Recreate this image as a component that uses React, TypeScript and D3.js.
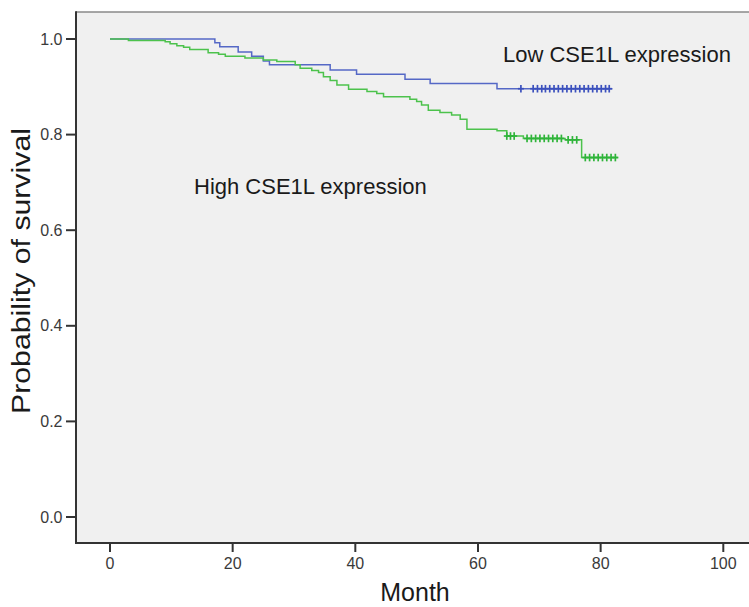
import React from "react";
import * as d3 from "d3";

// Low CSE1L expression (blue): event times (months) and survival after each event
const lowTimes = [0, 17.1, 17.9, 20.9, 23.1, 25.0, 26.0, 35.9, 40.2, 48.1, 52.2, 63.1];
const lowSurv = [1.0, 0.992, 0.984, 0.973, 0.964, 0.954, 0.946, 0.935, 0.926, 0.916, 0.907, 0.896];
const lowCensor = [67.0, 69.0, 69.7, 70.4, 71.0, 71.7, 72.4, 73.1, 73.8, 74.5, 75.2, 75.9, 76.6, 77.3, 78.0, 78.7, 79.4, 80.1, 80.8, 81.4];
const lowEnd = 81.9;

// High CSE1L expression (green)
const highTimes = [0, 3.0, 9.0, 9.8, 10.9, 12.0, 13.0, 16.0, 17.7, 18.8, 22.0, 25.0, 27.2, 30.2, 31.0, 32.9, 34.0, 34.8, 35.9, 37.0, 38.9, 41.9, 43.5, 44.6, 48.9, 50.0, 50.8, 51.9, 53.8, 55.7, 57.1, 58.2, 63.1, 64.7, 67.4, 74.2, 76.9];
const highSurv = [1.0, 0.997, 0.994, 0.990, 0.986, 0.983, 0.978, 0.971, 0.968, 0.964, 0.960, 0.956, 0.953, 0.946, 0.939, 0.934, 0.930, 0.921, 0.913, 0.904, 0.895, 0.890, 0.886, 0.879, 0.874, 0.869, 0.862, 0.851, 0.846, 0.841, 0.832, 0.811, 0.808, 0.797, 0.792, 0.789, 0.752];
const highCensor = [64.7, 65.3, 65.9, 68.0, 68.7, 69.4, 70.1, 70.8, 71.5, 72.2, 72.9, 73.6, 74.7, 75.4, 76.1, 77.5, 78.2, 78.9, 79.6, 80.3, 81.0, 81.7, 82.4];
const highEnd = 82.8;

const xTicks = [0, 20, 40, 60, 80, 100];
const yTicks = [0.0, 0.2, 0.4, 0.6, 0.8, 1.0];

const W = 749;
const H = 607;
const plotLeft = 76;
const plotTop = 12;
const plotBottom = 543;

const x = d3.scaleLinear().domain([0, 100]).range([110, 723.3]);
const y = d3.scaleLinear().domain([0, 1]).range([517, 39]);

function survAt(times: number[], surv: number[], t: number) {
  const i = d3.bisectRight(times, t) - 1;
  return surv[Math.max(0, i)];
}

function stepPath(times: number[], surv: number[], end: number) {
  const pts: [number, number][] = times.map((t, i) => [t, surv[i]]);
  pts.push([end, surv[surv.length - 1]]);
  const line = d3
    .line<[number, number]>()
    .x((d) => x(d[0]))
    .y((d) => y(d[1]))
    .curve(d3.curveStepAfter);
  return line(pts) || "";
}

function Censors({ times, surv, censor, color }: { times: number[]; surv: number[]; censor: number[]; color: string }) {
  return (
    <g stroke={color} strokeWidth={1.7}>
      {censor.map((c, i) => {
        const cx = x(c);
        const cy = y(survAt(times, surv, c));
        return (
          <g key={i}>
            <line x1={cx} x2={cx} y1={cy - 3.8} y2={cy + 3.8} />
            <line x1={cx - 3} x2={cx + 3} y1={cy} y2={cy} />
          </g>
        );
      })}
    </g>
  );
}

export default function App() {
  const blue = "#5568c6";
  const green = "#4cc24c";
  const font = "Arial, 'Liberation Sans', sans-serif";
  return (
    <svg width={W} height={H} style={{ position: "absolute", left: 0, top: 0, background: "#ffffff" }}>
      <rect x={plotLeft} y={plotTop} width={W - plotLeft + 5} height={plotBottom - plotTop} fill="#f0f0f0" />
      {/* top border */}
      <line x1={plotLeft} x2={W} y1={plotTop} y2={plotTop} stroke="#8a8a8a" strokeWidth={1.6} />
      {/* left axis */}
      <line x1={plotLeft} x2={plotLeft} y1={plotTop - 0.8} y2={plotBottom + 1} stroke="#333" strokeWidth={2} />
      {/* bottom axis */}
      <line x1={plotLeft - 1} x2={W} y1={plotBottom} y2={plotBottom} stroke="#333" strokeWidth={2} />

      {yTicks.map((t) => (
        <g key={"y" + t}>
          <line x1={66} x2={plotLeft} y1={y(t)} y2={y(t)} stroke="#333" strokeWidth={2} />
          <text
            x={62.5}
            y={y(t)}
            textAnchor="end"
            dominantBaseline="central"
            fontFamily={font}
            fontSize={16}
            fill="#3a3a3a"
          >
            {t.toFixed(1)}
          </text>
        </g>
      ))}
      {xTicks.map((t) => (
        <g key={"x" + t}>
          <line x1={x(t)} x2={x(t)} y1={plotBottom} y2={plotBottom + 9} stroke="#333" strokeWidth={2} />
          <text
            x={x(t)}
            y={568.5}
            textAnchor="middle"
            fontFamily={font}
            fontSize={16}
            fill="#3a3a3a"
          >
            {t}
          </text>
        </g>
      ))}

      <path d={stepPath(lowTimes, lowSurv, lowEnd)} fill="none" stroke={blue} strokeWidth={1.5} />
      <path d={stepPath(highTimes, highSurv, highEnd)} fill="none" stroke={green} strokeWidth={1.5} />
      <Censors times={lowTimes} surv={lowSurv} censor={lowCensor} color="#3b50bd" />
      <Censors times={highTimes} surv={highSurv} censor={highCensor} color="#2fb43a" />

      <text x={503} y={61.5} fontFamily={font} fontSize={22} fill="#1a1a1a">
        Low CSE1L expression
      </text>
      <text x={194} y={194} fontFamily={font} fontSize={22} fill="#1a1a1a">
        High CSE1L expression
      </text>

      <text x={415} y={601} textAnchor="middle" fontFamily={font} fontSize={25} fill="#1a1a1a">
        Month
      </text>
      <text
        transform={`translate(30, 271) rotate(-90)`}
        textAnchor="middle"
        fontFamily={font}
        fontSize={25}
        textLength={286}
        lengthAdjust="spacingAndGlyphs"
        fill="#1a1a1a"
      >
        Probability of survival
      </text>
    </svg>
  );
}
